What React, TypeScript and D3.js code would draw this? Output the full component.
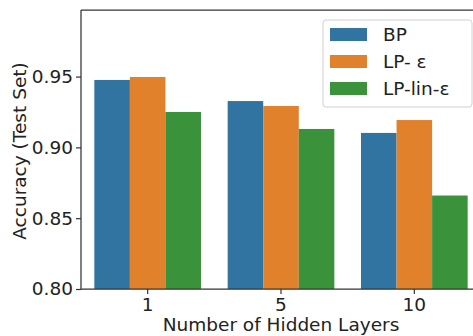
import React, { useEffect, useRef } from 'react';
import * as d3 from 'd3';

const categories = ['1', '5', '10'];
const seriesNames = ['BP', 'LP- ε', 'LP-lin-ε'];
const bpValues = [0.9476, 0.9327, 0.9102];
const lpEpsValues = [0.9497, 0.9292, 0.9193];
const lpLinValues = [0.925, 0.913, 0.866];
const yTicks = [0.8, 0.85, 0.9, 0.95];
const colors = ['#3274a1', '#e1812c', '#3a923a'];

const App = () => {
  const svgRef = useRef<SVGSVGElement>(null);

  useEffect(() => {
    const width = 473;
    const height = 336;
    const margin = { left: 81, top: 10, right: -8, bottom: 47 };
    const font = 'DejaVu Sans, sans-serif';
    const fs = 18.5;
    const series = [bpValues, lpEpsValues, lpLinValues];

    const svg = d3.select(svgRef.current);
    svg.selectAll('*').remove();
    svg.attr('width', width).attr('height', height);

    const x0 = d3
      .scaleBand()
      .domain(categories)
      .range([margin.left, width - margin.right])
      .paddingInner(0.2)
      .paddingOuter(0.1);
    const x1 = d3
      .scaleBand()
      .domain(seriesNames)
      .range([0, x0.bandwidth()]);
    const y = d3
      .scaleLinear()
      .domain([0.8, 0.997])
      .range([height - margin.bottom, margin.top]);

    // Bars
    series.forEach((vals, si) => {
      svg
        .append('g')
        .selectAll('rect')
        .data(vals)
        .join('rect')
        .attr('x', (_, i) => (x0(categories[i]) as number) + (x1(seriesNames[si]) as number))
        .attr('y', (d) => y(d))
        .attr('width', x1.bandwidth())
        .attr('height', (d) => y(0.8) - y(d))
        .attr('fill', colors[si]);
    });

    // Y axis
    const yAxis = svg
      .append('g')
      .attr('transform', `translate(${margin.left},0)`)
      .call(d3.axisLeft(y).tickValues(yTicks).tickFormat(d3.format('.2f')).tickSize(5).tickPadding(3));
    yAxis.select('.domain').remove();
    yAxis.selectAll('line').attr('stroke', '#333').attr('stroke-width', 1.2);
    yAxis.selectAll('text').attr('font-family', font).attr('font-size', fs).attr('fill', '#222');

    // X axis
    const xAxis = svg
      .append('g')
      .attr('transform', `translate(0,${height - margin.bottom})`)
      .call(d3.axisBottom(x0).tickSize(5).tickPadding(4));
    xAxis.select('.domain').remove();
    xAxis.selectAll('line').attr('stroke', '#333').attr('stroke-width', 1.2);
    xAxis.selectAll('text').attr('font-family', font).attr('font-size', fs).attr('fill', '#222');

    // Spines
    const spine = svg.append('g').attr('fill', 'none').attr('stroke', '#333').attr('stroke-width', 1.25);
    spine.append('line').attr('x1', margin.left).attr('x2', margin.left).attr('y1', margin.top).attr('y2', height - margin.bottom);
    spine.append('line').attr('x1', margin.left).attr('x2', width).attr('y1', margin.top).attr('y2', margin.top);
    spine
      .append('line')
      .attr('x1', margin.left)
      .attr('x2', width)
      .attr('y1', height - margin.bottom)
      .attr('y2', height - margin.bottom);

    // Axis labels
    svg
      .append('text')
      .attr('x', 281)
      .attr('y', 331)
      .attr('text-anchor', 'middle')
      .attr('font-family', font)
      .attr('font-size', fs)
      .attr('fill', '#222')
      .text('Number of Hidden Layers');
    svg
      .append('text')
      .attr('transform', `translate(26,151) rotate(-90)`)
      .attr('text-anchor', 'middle')
      .attr('font-family', font)
      .attr('font-size', fs)
      .attr('fill', '#222')
      .text('Accuracy (Test Set)');

    // Legend
    const legend = svg.append('g').attr('transform', 'translate(323,20)');
    legend
      .append('rect')
      .attr('width', 149)
      .attr('height', 87)
      .attr('rx', 3)
      .attr('fill', 'white')
      .attr('fill-opacity', 0.8)
      .attr('stroke', '#d0d0d0');
    seriesNames.forEach((name, i) => {
      const g = legend.append('g').attr('transform', `translate(7,${8 + i * 27})`);
      g.append('rect').attr('width', 37).attr('height', 13).attr('fill', colors[i]);
      g.append('text')
        .attr('x', 53)
        .attr('y', 13)
        .attr('font-family', font)
        .attr('font-size', fs)
        .attr('fill', '#222')
        .text(name);
    });
  }, []);

  return <svg ref={svgRef} style={{ display: 'block', position: 'absolute', left: 0, top: 0 }}></svg>;
};

export default App;
